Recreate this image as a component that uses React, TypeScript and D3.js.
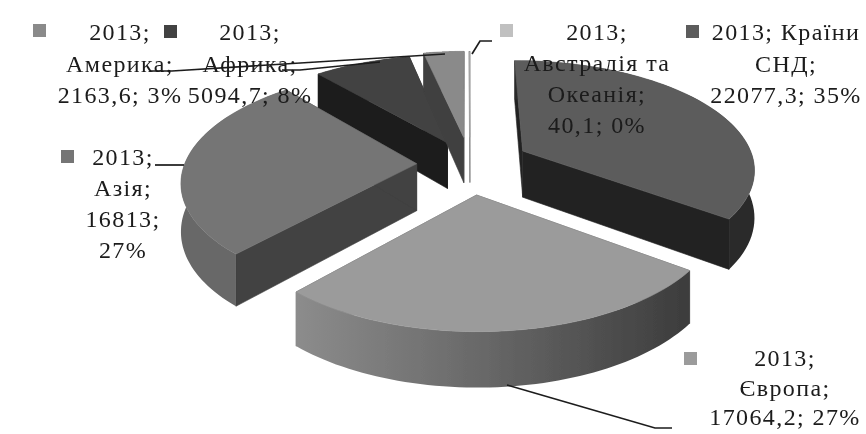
import React from "react";
import * as d3 from "d3";

const W = 866, H = 434;
const regions = ["Країни СНД", "Європа", "Азія", "Африка", "Америка", "Австралія та Океанія"];
const values = [22077.3, 17064.2, 16813, 5094.7, 2163.6, 40.1];
const explosion = [0.26, 0.27, 0.23, 0.22, 0.25, 0.25];
const topColors = ["#5c5c5c", "#9b9b9b", "#747474", "#434343", "#8a8a8a", "#a8a8a8"];
const cutColors = ["#232323", "#5a5a5a", "#424242", "#1b1b1b", "#404040", "#8a8a8a"];
const sideColors = ["#2a2a2a", "url(#euSide)", "#676767", "#1b1b1b", "#404040", "#8a8a8a"];
const drawOrder = [3, 4, 5, 0, 2, 1];

const labelLines = [
  ["2013; Країни", "СНД;", "22077,3; 35%"],
  ["2013;", "Європа;", "17064,2; 27%"],
  ["2013;", "Азія;", "16813;", "27%"],
  ["2013;", "Африка;", "5094,7; 8%"],
  ["2013;", "Америка;", "2163,6; 3%"],
  ["2013;", "Австралія та", "Океанія;", "40,1; 0%"],
];
const labelAnchors: [number, number][] = [[786, 40], [785, 366], [123, 165], [250, 40], [120, 40], [597, 40]];
const lineSteps = [31.5, 29.5, 31, 31.5, 31.5, 31];
const keyPos: [number, number][] = [[686, 25], [684, 352], [61, 150], [164, 25], [33, 24], [500, 24]];
const keyColors = ["#5c5c5c", "#9b9b9b", "#747474", "#434343", "#8a8a8a", "#c0c0c0"];
const leaders: [number, number][][] = [
  [[507, 385], [655, 428], [672, 428]],
  [[155, 165], [184, 165]],
  [[380, 62], [300, 70], [282, 70]],
  [[445, 54], [172, 71], [150, 71]],
  [[472, 54], [480, 41], [492, 41]],
];

const cx = 470, cy = 164, Rx = 232, Ry = 111, k = 0.15, depth = 47;

function project(wx: number, wy: number, z = 0): [number, number] {
  const p = 1 + k * wy;
  return [cx + Rx * wx * p, cy + Ry * wy * p + z * depth * p];
}

export default function App() {
  const arcs = d3.pie<number>().sort(null)(values);
  const line = d3.line();
  const slices = drawOrder.map((i) => {
    const a = arcs[i];
    const mid = (a.startAngle + a.endAngle) / 2;
    const ox = explosion[i] * Math.sin(mid), oy = -explosion[i] * Math.cos(mid);
    const pt = (t: number, z: number) => project(ox + Math.sin(t), oy - Math.cos(t), z);
    const apex = (z: number) => project(ox, oy, z);
    const steps = d3.range(0, 61).map((j) => a.startAngle + ((a.endAngle - a.startAngle) * j) / 60);
    const top = [apex(0), ...steps.map((t) => pt(t, 0))];
    const side = [...steps.map((t) => pt(t, 0)), ...steps.slice().reverse().map((t) => pt(t, 1))];
    const face = (t: number) => [apex(0), pt(t, 0), pt(t, 1), apex(1)];
    return (
      <g key={regions[i]}>
        <path d={line(face(a.startAngle) as any)! + "Z"} fill={cutColors[i]} stroke={cutColors[i]} strokeWidth={0.6} />
        <path d={line(face(a.endAngle) as any)! + "Z"} fill={cutColors[i]} stroke={cutColors[i]} strokeWidth={0.6} />
        <path d={line(side as any)! + "Z"} fill={sideColors[i]} />
        <path d={line(top as any)! + "Z"} fill={topColors[i]} stroke={topColors[i]} strokeWidth={0.6} />
      </g>
    );
  });

  return (
    <svg width={W} height={H} style={{ position: "absolute", left: 0, top: 0, background: "#fff" }}>
      <defs>
        <linearGradient id="euSide" x1="0" x2="1" y1="0" y2="0">
          <stop offset="0" stopColor="#8c8c8c" />
          <stop offset="0.5" stopColor="#666" />
          <stop offset="1" stopColor="#3c3c3c" />
        </linearGradient>
        <filter id="soft" x="-5%" y="-5%" width="110%" height="110%">
          <feGaussianBlur stdDeviation="0.5" />
        </filter>
      </defs>
      <g filter="url(#soft)">
        {slices}
        {leaders.map((l, i) => (
          <path key={i} d={line(l)!} fill="none" stroke="#1c1c1c" strokeWidth={1.7} />
        ))}
        {keyPos.map(([x, y], i) => (
          <rect key={i} x={x} y={y} width={13} height={13} fill={keyColors[i]} />
        ))}
        {labelLines.map((lines, i) =>
          lines.map((s, j) => (
            <text
              key={i + "-" + j}
              x={labelAnchors[i][0]}
              y={labelAnchors[i][1] + j * lineSteps[i]}
              textAnchor="middle"
              fontFamily="'Liberation Serif', serif"
              fontSize={24}
              letterSpacing={1.4}
              fill="#1a1a1a"
            >
              {s}
            </text>
          ))
        )}
      </g>
    </svg>
  );
}
